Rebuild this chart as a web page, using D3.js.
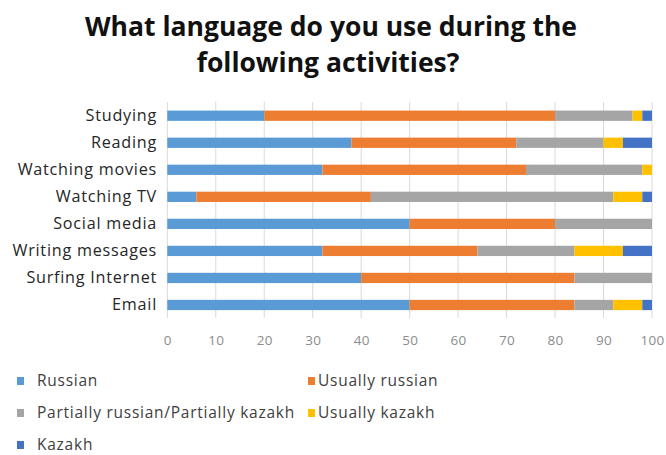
<!DOCTYPE html>
<html>
<head>
<meta charset="utf-8">
<script src="https://cdn.jsdelivr.net/npm/d3@7"></script>
<style>
  html, body { margin: 0; padding: 0; background: #fff; }
  svg { display: block; }
</style>
</head>
<body>
<svg id="chart" width="666" height="455"></svg>
<script>
// Activities (top to bottom)
const categories = ["Studying", "Reading", "Watching movies", "Watching TV",
  "Social media", "Writing messages", "Surfing Internet", "Email"];

// Share of respondents (%) per answer
const russian        = [20, 38, 32, 6, 50, 32, 40, 50];
const usuallyRussian = [60, 34, 42, 36, 30, 32, 44, 34];
const partial        = [16, 18, 24, 50, 20, 20, 16, 8];
const usuallyKazakh  = [2, 4, 2, 6, 0, 10, 0, 6];
const kazakh         = [2, 6, 0, 2, 0, 6, 0, 2];

const seriesNames = ["Russian", "Usually russian", "Partially russian/Partially kazakh",
  "Usually kazakh", "Kazakh"];
const seriesColors = ["#5B9BD5", "#ED7D31", "#A5A5A5", "#FFC000", "#4472C4"];
const xTicks = [0, 10, 20, 30, 40, 50, 60, 70, 80, 90, 100];

const keys = ["russian", "usuallyRussian", "partial", "usuallyKazakh", "kazakh"];
const rows = categories.map((c, i) => ({
  category: c,
  russian: russian[i],
  usuallyRussian: usuallyRussian[i],
  partial: partial[i],
  usuallyKazakh: usuallyKazakh[i],
  kazakh: kazakh[i]
}));

const svg = d3.select("#chart");
const font = "'Open Sans', sans-serif";

const x = d3.scaleLinear().domain([0, 100]).range([167.3, 652]);
const y = d3.scaleBand().domain(categories).range([102.2, 318.5]).paddingInner(0.62).paddingOuter(0.31);
const color = d3.scaleOrdinal().domain(keys).range(seriesColors);

// Title
const title = svg.append("text")
  .attr("text-anchor", "middle")
  .attr("font-family", font).attr("font-weight", 700)
  .attr("font-size", 26.5).attr("fill", "#111");
title.append("tspan").attr("x", 331).attr("y", 36).text("What language do you use during the");
title.append("tspan").attr("x", 328).attr("y", 72).text("following activities?");

// Vertical gridlines
svg.append("g")
  .selectAll("line")
  .data(xTicks)
  .join("line")
  .attr("x1", d => x(d)).attr("x2", d => x(d))
  .attr("y1", 102).attr("y2", 318)
  .attr("stroke", "#d9d9d9").attr("stroke-width", 1);

// Stacked bars
const stacked = d3.stack().keys(keys)(rows);
svg.append("g")
  .selectAll("g")
  .data(stacked)
  .join("g")
  .attr("fill", d => color(d.key))
  .selectAll("rect")
  .data(d => d)
  .join("rect")
  .attr("x", d => x(d[0]))
  .attr("width", d => x(d[1]) - x(d[0]))
  .attr("y", d => y(d.data.category))
  .attr("height", y.bandwidth());

// Category axis
const yAxis = svg.append("g")
  .attr("transform", "translate(167,0)")
  .call(d3.axisLeft(y).tickSize(0).tickPadding(10));
yAxis.select(".domain").remove();
yAxis.selectAll("text")
  .attr("font-family", font).attr("font-size", 16.2).attr("letter-spacing", 0.75)
  .attr("fill", "#262626");

// Value axis
const xAxis = svg.append("g")
  .attr("transform", "translate(0,318)")
  .call(d3.axisBottom(x).tickValues(xTicks).tickSize(0).tickPadding(17));
xAxis.select(".domain").remove();
xAxis.selectAll("text")
  .attr("font-family", font).attr("font-size", 13.5).attr("letter-spacing", 0.3)
  .attr("fill", "#8c8c8c");

// Legend
const legendPos = [[17, 381], [308, 381], [17, 413], [308, 413], [17, 445]];
const legend = svg.append("g")
  .selectAll("g")
  .data(seriesNames)
  .join("g")
  .attr("transform", (d, i) => `translate(${legendPos[i][0]},${legendPos[i][1]})`);
legend.append("rect")
  .attr("x", 0).attr("y", -4).attr("width", 7).attr("height", 8)
  .attr("fill", (d, i) => seriesColors[i]);
legend.append("text")
  .attr("x", (d, i) => i % 2 === 1 ? 10 : 20)
  .attr("y", 0).attr("dy", "0.35em")
  .attr("font-family", font).attr("font-size", 15.5).attr("letter-spacing", 0.75)
  .attr("fill", "#404040")
  .text(d => d);
</script>
</body>
</html>
